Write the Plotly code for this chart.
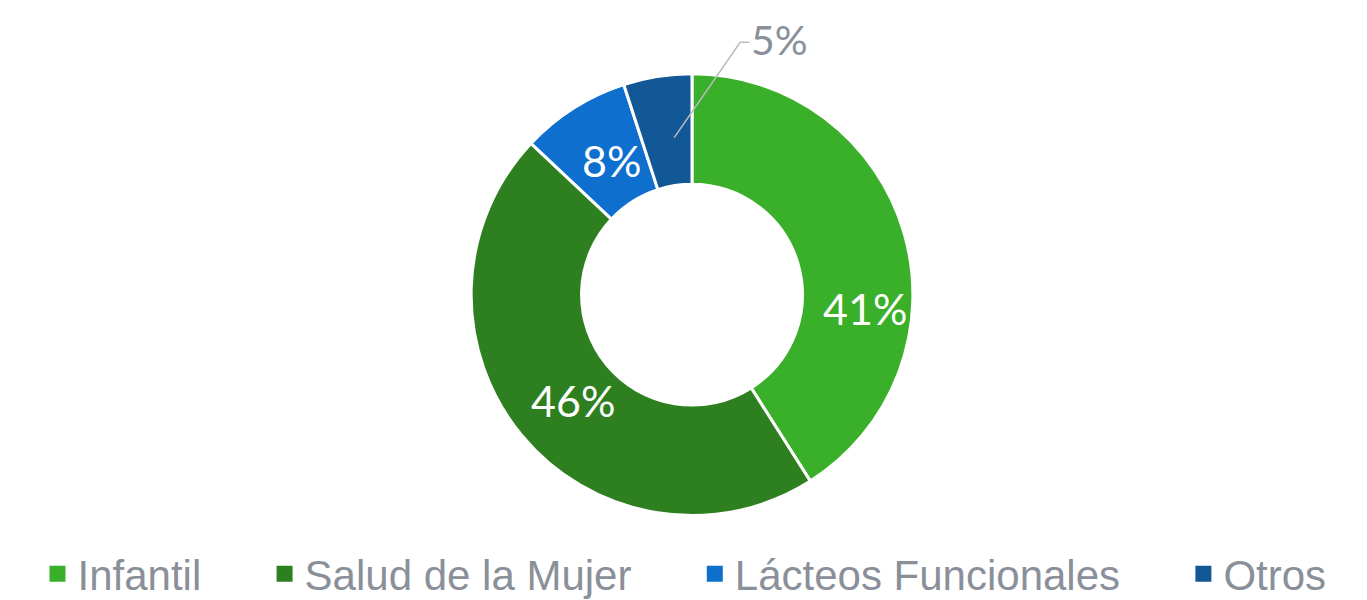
import math
import plotly.graph_objects as go

categories = ["Infantil", "Salud de la Mujer", "Lácteos Funcionales", "Otros"]
values = [41, 46, 8, 5]
labels_text = ["41%", "46%", "8%", "5%"]
colors = ["#3AAF29", "#2D7F20", "#0E6FCF", "#135896"]

W, H = 1367, 600
cx, cy, R = 692, 295, 220  # desired pixel centre / radius
hole = 0.5
label_angle_nudge = [20, 0, 0, 0]  # degrees, style tweak for label placement

# plotly draws the pie slightly inset within its domain; compensate
dcx, dcy, dR = cx - 8, cy - 3, R + 5
dom_x = [(dcx - dR) / W, (dcx + dR) / W]
dom_y = [1 - (dcy + dR) / H, 1 - (dcy - dR) / H]

fig = go.Figure(go.Pie(
    labels=categories,
    values=values,
    textinfo="none",
    marker=dict(colors=colors, line=dict(color="white", width=3)),
    hole=hole,
    sort=False,
    direction="clockwise",
    rotation=0,
    domain=dict(x=dom_x, y=dom_y),
    hoverinfo="label+percent",
    showlegend=False,
))

# legend entries (square swatches)
pad = "\u00a0" * 5
for i, (c, col) in enumerate(zip(categories, colors)):
    fig.add_trace(go.Scatter(
        x=[None], y=[None], mode="markers", name=c + (pad if i < len(categories) - 1 else ""),
        marker=dict(symbol="square", size=16, color=col), hoverinfo="skip", showlegend=True,
    ))

def P(x, y):
    return x / W, 1 - y / H

total = sum(values)
rm = R * (1 + hole) / 2
lab_font = dict(family="Lato, Open Sans, sans-serif", size=43, weight=400)
cum = 0
for i, v in enumerate(values):
    mid = (cum + v / 2) / total
    cum += v
    ang = 2 * math.pi * mid + math.radians(label_angle_nudge[i])
    px = cx + rm * math.sin(ang)
    py = cy - rm * math.cos(ang)
    if v >= 8:
        x, y = P(px, py)
        fig.add_annotation(x=x, y=y, xref="paper", yref="paper", text=labels_text[i],
                           showarrow=False, xanchor="center", yanchor="middle",
                           font=dict(lab_font, color="white"))
    else:
        ex, ey = px + 66, 35
        hx = ex + 9
        x0, y0 = P(px, py)
        x1, y1 = P(ex, ey)
        x2, y2 = P(hx, ey)
        fig.add_shape(type="path", xref="paper", yref="paper",
                      path=f"M {x0} {y0} L {x1} {y1} L {x2} {y2}",
                      line=dict(color="#B8BCC2", width=1.5))
        fig.add_annotation(x=x2, y=P(0, 32)[1], xref="paper", yref="paper",
                           text=labels_text[i], showarrow=False,
                           xanchor="left", yanchor="middle",
                           font=dict(lab_font, size=41, color="#8A9099"))

fig.update_layout(
    width=W, height=H,
    margin=dict(l=0, r=0, t=0, b=0),
    paper_bgcolor="white", plot_bgcolor="white",
    xaxis=dict(visible=False), yaxis=dict(visible=False),
    showlegend=True,
    legend=dict(orientation="h", x=0.5 - 7 / W, xanchor="center", y=1 - 577 / H, yanchor="middle",
                font=dict(family="Liberation Sans, Arial, sans-serif", size=42, color="#8A9099"),
                itemwidth=30, traceorder="normal", bgcolor="rgba(0,0,0,0)"),
)

fig.write_html("out.html")
